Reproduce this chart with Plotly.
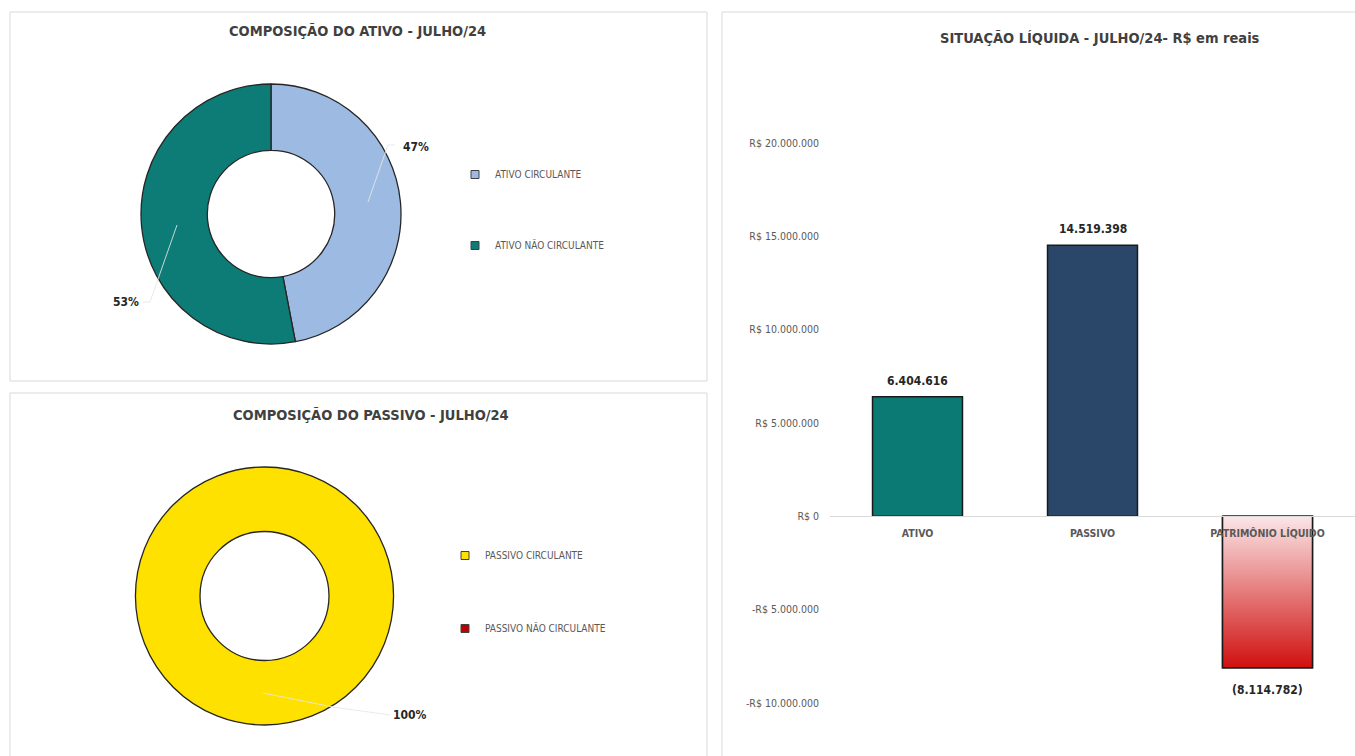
import plotly.graph_objects as go

# ---------------- data ----------------
ativo_labels = ["ATIVO CIRCULANTE", "ATIVO NÃO CIRCULANTE"]
ativo_values = [3010170, 3394446]
ativo_colors = ["#9dbbe2", "#0e7c76"]

passivo_labels = ["PASSIVO CIRCULANTE", "PASSIVO NÃO CIRCULANTE"]
passivo_values = [14519398, 0]
passivo_colors = ["#ffe100", "#c00000"]

bar_categories = ["ATIVO", "PASSIVO", "PATRIMÔNIO LÍQUIDO"]
bar_values = [6404616, 14519398, -8114782]
bar_colors = ["#0b7a75", "#2a4769", "rgba(0,0,0,0)"]

y_ticks = [-10000000, -5000000, 0, 5000000, 10000000, 15000000, 20000000]

FONT = "Liberation Sans Narrow, DejaVu Sans Condensed, Arial Narrow, sans-serif"
W, H = 1355, 756


def br_num(v):
    s = f"{abs(v):,.0f}".replace(",", ".")
    return f"({s})" if v < 0 else s


def br_money(v):
    s = f"{abs(v):,.0f}".replace(",", ".")
    return ("-R$ " if v < 0 else "R$ ") + s


def px_x(p):
    return p / W


def px_y(p):
    return 1 - p / H


fig = go.Figure()

# ---------------- pies ----------------
fig.add_trace(go.Pie(
    labels=ativo_labels, values=ativo_values, hole=0.49, sort=False,
    direction="clockwise", rotation=0,
    marker=dict(colors=ativo_colors, line=dict(color="#262626", width=1.3)),
    textinfo="none", showlegend=False,
    domain=dict(x=[px_x(141), px_x(401)], y=[px_y(344), px_y(84)]),
))
fig.add_trace(go.Pie(
    labels=passivo_labels, values=passivo_values, hole=0.5, sort=False,
    direction="clockwise", rotation=0,
    marker=dict(colors=passivo_colors,
                line=dict(color="#262626", width=[1.3 if v > 0 else 0 for v in passivo_values])),
    textinfo="none", showlegend=False,
    domain=dict(x=[px_x(135), px_x(394)], y=[px_y(725), px_y(467)]),
))

# legend entries (dummy markers)
for lab, col in zip(ativo_labels, ativo_colors):
    fig.add_trace(go.Scatter(
        x=[None], y=[None], mode="markers", name=lab, legend="legend",
        legendgroup=lab,
        marker=dict(symbol="square", size=8, color=col, line=dict(color="#404040", width=1)),
    ))
for lab, col in zip(passivo_labels, passivo_colors):
    fig.add_trace(go.Scatter(
        x=[None], y=[None], mode="markers", name=lab, legend="legend2",
        legendgroup=lab,
        marker=dict(symbol="square", size=8, color=col, line=dict(color="#404040", width=1)),
    ))

# ---------------- bars ----------------
bar_x = list(range(len(bar_categories)))
bar_w = 0.514
fig.add_trace(go.Bar(
    x=bar_x, y=bar_values, width=bar_w,
    marker=dict(color=bar_colors, line=dict(color="#1a1a1a", width=1.5)),
    showlegend=False,
))
# gradient fill for the negative bar
i_pl = 2
x0, x1 = bar_x[i_pl] - bar_w / 2, bar_x[i_pl] + bar_w / 2
v = bar_values[i_pl]
fig.add_trace(go.Scatter(
    x=[x0, x1, x1, x0, x0], y=[0, 0, v, v, 0], mode="lines", fill="toself",
    fillgradient=dict(type="vertical", colorscale=[[0, "#d0100f"], [1, "#fbe6e8"]]),
    line=dict(color="#1a1a1a", width=1.5), showlegend=False, hoverinfo="skip",
))

# data labels
for xi, val in zip(bar_x, bar_values):
    fig.add_annotation(x=xi, y=val, xref="x", yref="y", text=br_num(val),
                       showarrow=False, yshift=16 if val >= 0 else -22,
                       font=dict(family=FONT, size=12, color="#262626", weight="bold"))

ymin, ymax = -12250000, 22300000
ydom = [px_y(745), px_y(100)]
zero_pos = ydom[0] + (0 - ymin) / (ymax - ymin) * (ydom[1] - ydom[0])

fig.update_layout(
    width=W, height=H, margin=dict(l=0, r=0, t=0, b=0),
    paper_bgcolor="white", plot_bgcolor="rgba(0,0,0,0)",
    font=dict(family=FONT, color="#595959"),
    xaxis=dict(
        domain=[px_x(830), 1.0], range=[-0.5, 2.5],
        tickvals=bar_x, ticktext=bar_categories,
        anchor="free", position=zero_pos,
        showline=True, linecolor="#d9d9d9", linewidth=1,
        showgrid=False, zeroline=False, ticks="",
        ticklabelstandoff=7,
        tickfont=dict(family=FONT, size=10.5, color="#595959", weight="bold"),
        layer="above traces",
    ),
    yaxis=dict(
        domain=ydom, range=[ymin, ymax],
        tickvals=y_ticks, ticktext=[br_money(t) for t in y_ticks],
        showgrid=False, zeroline=False, showline=False, ticks="",
        ticklabelstandoff=10,
        tickfont=dict(family=FONT, size=10.5, color="#595959"),
    ),
    legend=dict(
        x=px_x(455), y=px_y(160), xanchor="left", yanchor="top",
        font=dict(family=FONT, size=10, color="#595959"),
        tracegroupgap=52, bgcolor="rgba(0,0,0,0)",
    ),
    legend2=dict(
        x=px_x(445), y=px_y(541), xanchor="left", yanchor="top",
        font=dict(family=FONT, size=10, color="#595959"),
        tracegroupgap=54, bgcolor="rgba(0,0,0,0)",
    ),
)

# panel borders
for (a, b, c, d) in [(10, 12, 707, 381), (10, 393, 707, 760), (722, 12, 1360, 760)]:
    fig.add_shape(type="rect", xref="paper", yref="paper",
                  x0=px_x(a), x1=px_x(c), y0=px_y(d), y1=px_y(b),
                  line=dict(color="#d9d9d9", width=1), layer="below")

# titles
titles = [
    ("COMPOSIÇÃO DO ATIVO - JULHO/24", 358, 31),
    ("COMPOSIÇÃO DO PASSIVO - JULHO/24", 371, 415),
    ("SITUAÇÃO LÍQUIDA - JULHO/24- R$ em reais", 1100, 38),
]
for t, xx, yy in titles:
    fig.add_annotation(text=t, x=px_x(xx), y=px_y(yy), xref="paper", yref="paper",
                       showarrow=False, xanchor="center", yanchor="middle",
                       font=dict(family=FONT, size=14.5, color="#404040", weight="bold"))

# pie percentage labels with leader lines
def pct_labels(vals):
    tot = sum(vals)
    return [f"{round(100 * v / tot)}%" for v in vals]

a_pct = pct_labels(ativo_values)
p_pct = pct_labels(passivo_values)
leaders = [
    [(368, 202), (388, 145), (395, 145)],
    [(177, 225), (150, 302), (143, 302)],
    [(263, 693), (333, 707), (390, 715)],
]
for pts in leaders:
    path = "M " + " L ".join(f"{px_x(a)},{px_y(b)}" for a, b in pts)
    fig.add_shape(type="path", path=path, xref="paper", yref="paper",
                  line=dict(color="rgba(230,230,230,0.85)", width=1))

for t, xx, yy in [(a_pct[0], 416, 147), (a_pct[1], 126, 302), (p_pct[0], 410, 715)]:
    fig.add_annotation(text=t, x=px_x(xx), y=px_y(yy), xref="paper", yref="paper",
                       showarrow=False, xanchor="center", yanchor="middle",
                       font=dict(family=FONT, size=12, color="#262626", weight="bold"))

fig.write_html("out.html", config={"displayModeBar": False},
               post_script="document.body.style.margin='0px';")
